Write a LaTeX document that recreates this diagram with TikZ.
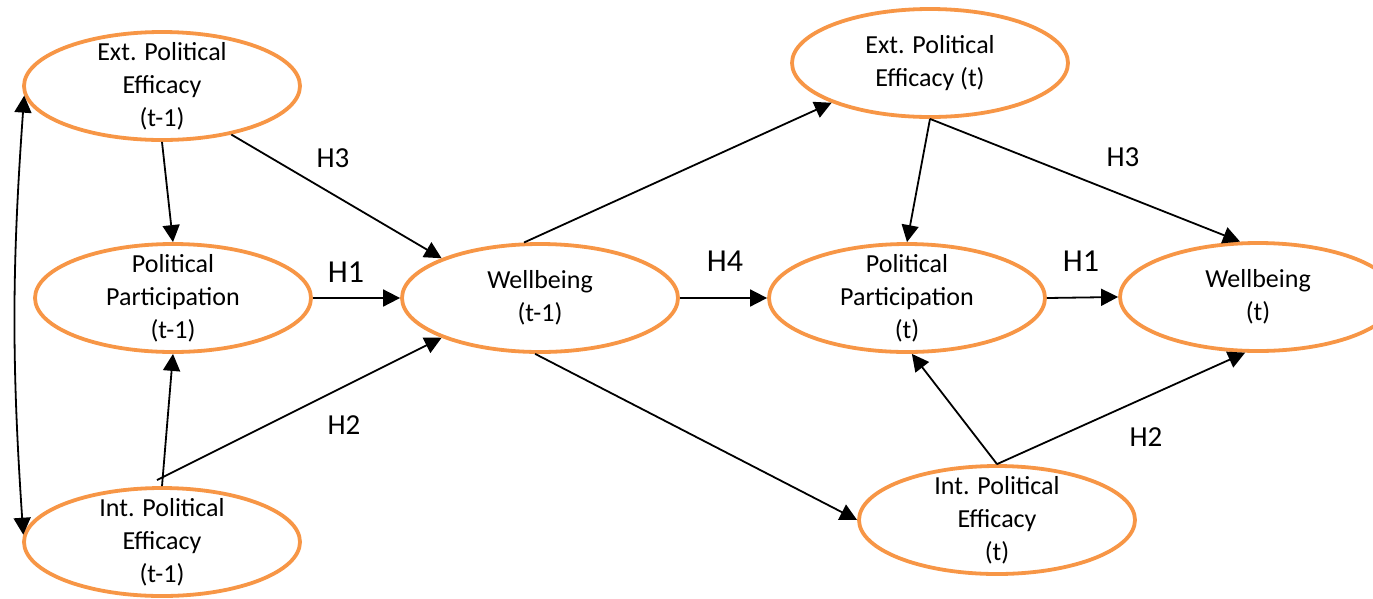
\documentclass[tikz,border=0pt]{standalone}
\usepackage{fontspec}
\setmainfont{Carlito}
\usetikzlibrary{shapes.geometric,arrows.meta}
\definecolor{orng}{HTML}{F79646}
\begin{document}
\begin{tikzpicture}[x=1pt,y=-1pt,
  var/.style={ellipse, draw=orng, line width=3.8pt, minimum width=276pt,
    minimum height=108pt, inner sep=0pt, fill=white},
  vtext/.style={align=center, font=\fontsize{26}{33}\selectfont},
  link/.style={draw=black, line width=1.8pt, -{Triangle[length=17pt,width=17pt]}},
  hyp/.style={font=\fontsize{29}{33}\selectfont},
  hypbig/.style={font=\fontsize{32}{36}\selectfont}]
\useasboundingbox (0,0) rectangle (1373,598);

% latent variables, wave t-1
\node[var, label={[vtext]center:{Ext. Political\\Efficacy\\(t-1)}}] (ext1) at (162,86) {};
\node[var, label={[vtext]center:{Political\\Participation\\(t-1)}}] (pp1) at (173,298) {};
\node[var, label={[vtext]center:{Int. Political\\Efficacy\\(t-1)}}] (int1) at (162,542) {};
\node[var, label={[vtext]center:{Wellbeing\\(t-1)}}] (wb1) at (540,298) {};

% latent variables, wave t
\node[var, label={[vtext]center:{Ext. Political\\Efficacy (t)}}] (ext2) at (930,63) {};
\node[var, label={[vtext]center:{Political\\Participation\\(t)}}] (pp2) at (907,298) {};
\node[var, label={[vtext]center:{Wellbeing\\(t)}}] (wb2) at (1258,297) {};
\node[var, label={[vtext]center:{Int. Political\\Efficacy\\(t)}}] (int2) at (997,520) {};

% paths within wave t-1
\draw[link] (ext1.south) -- (pp1.north);
\draw[link] (int1.north) -- (pp1.south);
\draw[link] (ext1.325) -- (wb1.158);
\draw[link] (pp1.east) -- (wb1.west);
\coordinate (h2a) at (157,480);
\draw[link] (h2a) -- (wb1.202);
\draw[link, {Triangle[length=17pt,width=17pt]}-{Triangle[length=17pt,width=17pt]}]
  (ext1.184) to[bend right=4] (int1.177);

% cross-lagged paths
\draw[link] (wb1.106) -- (ext2.202);
\draw[link] (wb1.east) -- (pp2.west);
\draw[link] (wb1.265) -- (int2.west);

% paths within wave t
\draw[link] (ext2.south) -- (pp2.north);
\draw[link] (ext2.south) -- (wb2.108);
\draw[link] (pp2.east) -- (wb2.west);
\draw[link] (int2.north) -- (pp2.275);
\draw[link] (int2.north) -- (wb2.257);

% hypothesis labels
\node[hyp] (h3a) at (333,158) {H3};
\node[hypbig] (h1a) at (346,272) {H1};
\node[hyp] (h2l) at (344,425) {H2};
\node[hypbig] (h4) at (725,261) {H4};
\node[hyp] (h3b) at (1123,157) {H3};
\node[hypbig] (h1b) at (1081,261) {H1};
\node[hyp] (h2b) at (1146,437) {H2};
\end{tikzpicture}
\end{document}
